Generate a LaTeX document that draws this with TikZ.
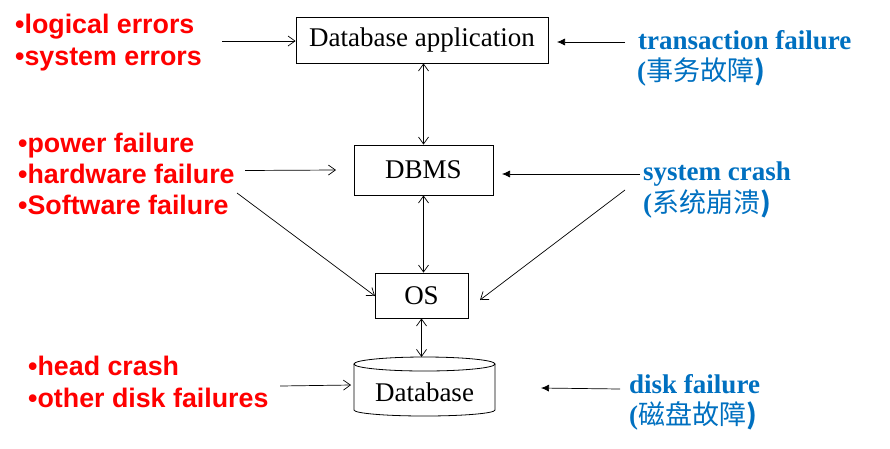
\documentclass[tikz,border=0pt]{standalone}
\usepackage{fontspec}
\setmainfont{Liberation Serif}
\newfontfamily\arialfont{Liberation Sans}
\newfontfamily\cjkfont{Noto Sans CJK SC}
\usetikzlibrary{arrows.meta}
\definecolor{redtxt}{RGB}{255,0,0}
\definecolor{bluetxt}{RGB}{0,112,192}
\begin{document}
\begin{tikzpicture}[x=1pt,y=-1pt,
  box/.style={draw, line width=0.8pt, inner sep=0pt, font=\fontsize{27}{30}\selectfont},
  redlabel/.style={anchor=base west, inner sep=0pt, text=redtxt, font=\arialfont\bfseries\fontsize{26.8}{30}\selectfont},
  bluelabel/.style={anchor=base west, inner sep=0pt, text=bluetxt, font=\bfseries\fontsize{27}{30}\selectfont},
  openarr/.style={-{Straight Barb[length=7pt,width=10pt]}, line width=0.7pt},
  twoway/.style={{Straight Barb[length=7pt,width=10pt]}-{Straight Barb[length=7pt,width=10pt]}, line width=0.7pt},
  fillarr/.style={-{Latex[length=8pt,width=7pt]}, line width=0.7pt}]
\useasboundingbox (0,0) rectangle (890,448);

% boxes
\node[box, minimum width=252pt, minimum height=46pt] (app) at (422,40) {Database application};
\node[box, minimum width=139pt, minimum height=50pt] (dbms) at (423.5,170) {DBMS};
\node[box, minimum width=93pt, minimum height=45pt] (os) at (421.5,295.5) {OS};

% database cylinder
\draw[line width=0.8pt] (424.5,364) ellipse[x radius=70.5, y radius=7];
\draw[line width=0.8pt] (354,364) -- (354,410) arc[start angle=180, end angle=0, x radius=70.5, y radius=6] -- (495,364);
\node[inner sep=0pt, minimum width=141pt, minimum height=50pt, font=\fontsize{27}{30}\selectfont] (db) at (424.5,392) {Database};
\coordinate (dbtop) at (424.5,357);

% red labels
\node[redlabel] (le) at (15,33) {•logical errors};
\node[redlabel] (se) at (15,65) {•system errors};
\node[redlabel] (pf) at (18,152) {•power failure};
\node[redlabel] (hf) at (18,183) {•hardware failure};
\node[redlabel] (sf) at (18,214) {•Software failure};
\node[redlabel] (hc) at (28,375) {•head crash};
\node[redlabel] (od) at (28,407) {•other disk failures};

% blue labels
\node[bluelabel] (tf) at (638,49) {transaction failure};
\node[bluelabel] (tfc) at (637,80) {(\cjkfont\mdseries 事务故障\bfseries)};
\node[bluelabel] (sc) at (643,180) {system crash};
\node[bluelabel] (scc) at (643,212) {(\cjkfont\mdseries 系统崩溃\bfseries)};
\node[bluelabel] (df) at (629,393) {disk failure};
\node[bluelabel] (dfc) at (629,424) {(\cjkfont\mdseries 磁盘故障\bfseries)};

% connector end coordinates
\coordinate (a1) at (222,41);
\coordinate (a2) at (245,170.5);
\coordinate (a2e) at (336,170);
\coordinate (a3) at (237,193);
\coordinate (a3e) at (375,296);
\coordinate (a4) at (280,386);
\coordinate (a4e) at (351,385);
\coordinate (b1) at (625,42);
\coordinate (b1e) at (557,42);
\coordinate (b2) at (640,174);
\coordinate (b2e) at (502,174);
\coordinate (b3) at (625,190);
\coordinate (b3e) at (480,300);
\coordinate (b4) at (620,389);
\coordinate (b4e) at (541,388);

% connectors
\draw[openarr] (a1) -- (app.west |- a1);
\draw[openarr] (a2) -- (a2e);
\draw[openarr] (a3) -- (a3e);
\draw[openarr] (a4) -- (a4e);
\draw[fillarr] (b1) -- (b1e);
\draw[fillarr] (b2) -- (b2e);
\draw[openarr] (b3) -- (b3e);
\draw[fillarr] (b4) -- (b4e);
\draw[twoway] (app.south -| dbms.north) -- (dbms.north);
\draw[twoway] (dbms.south) -- (dbms.south |- os.north);
\draw[twoway] (os.south) -- (os.south |- dbtop);
\end{tikzpicture}
\end{document}
